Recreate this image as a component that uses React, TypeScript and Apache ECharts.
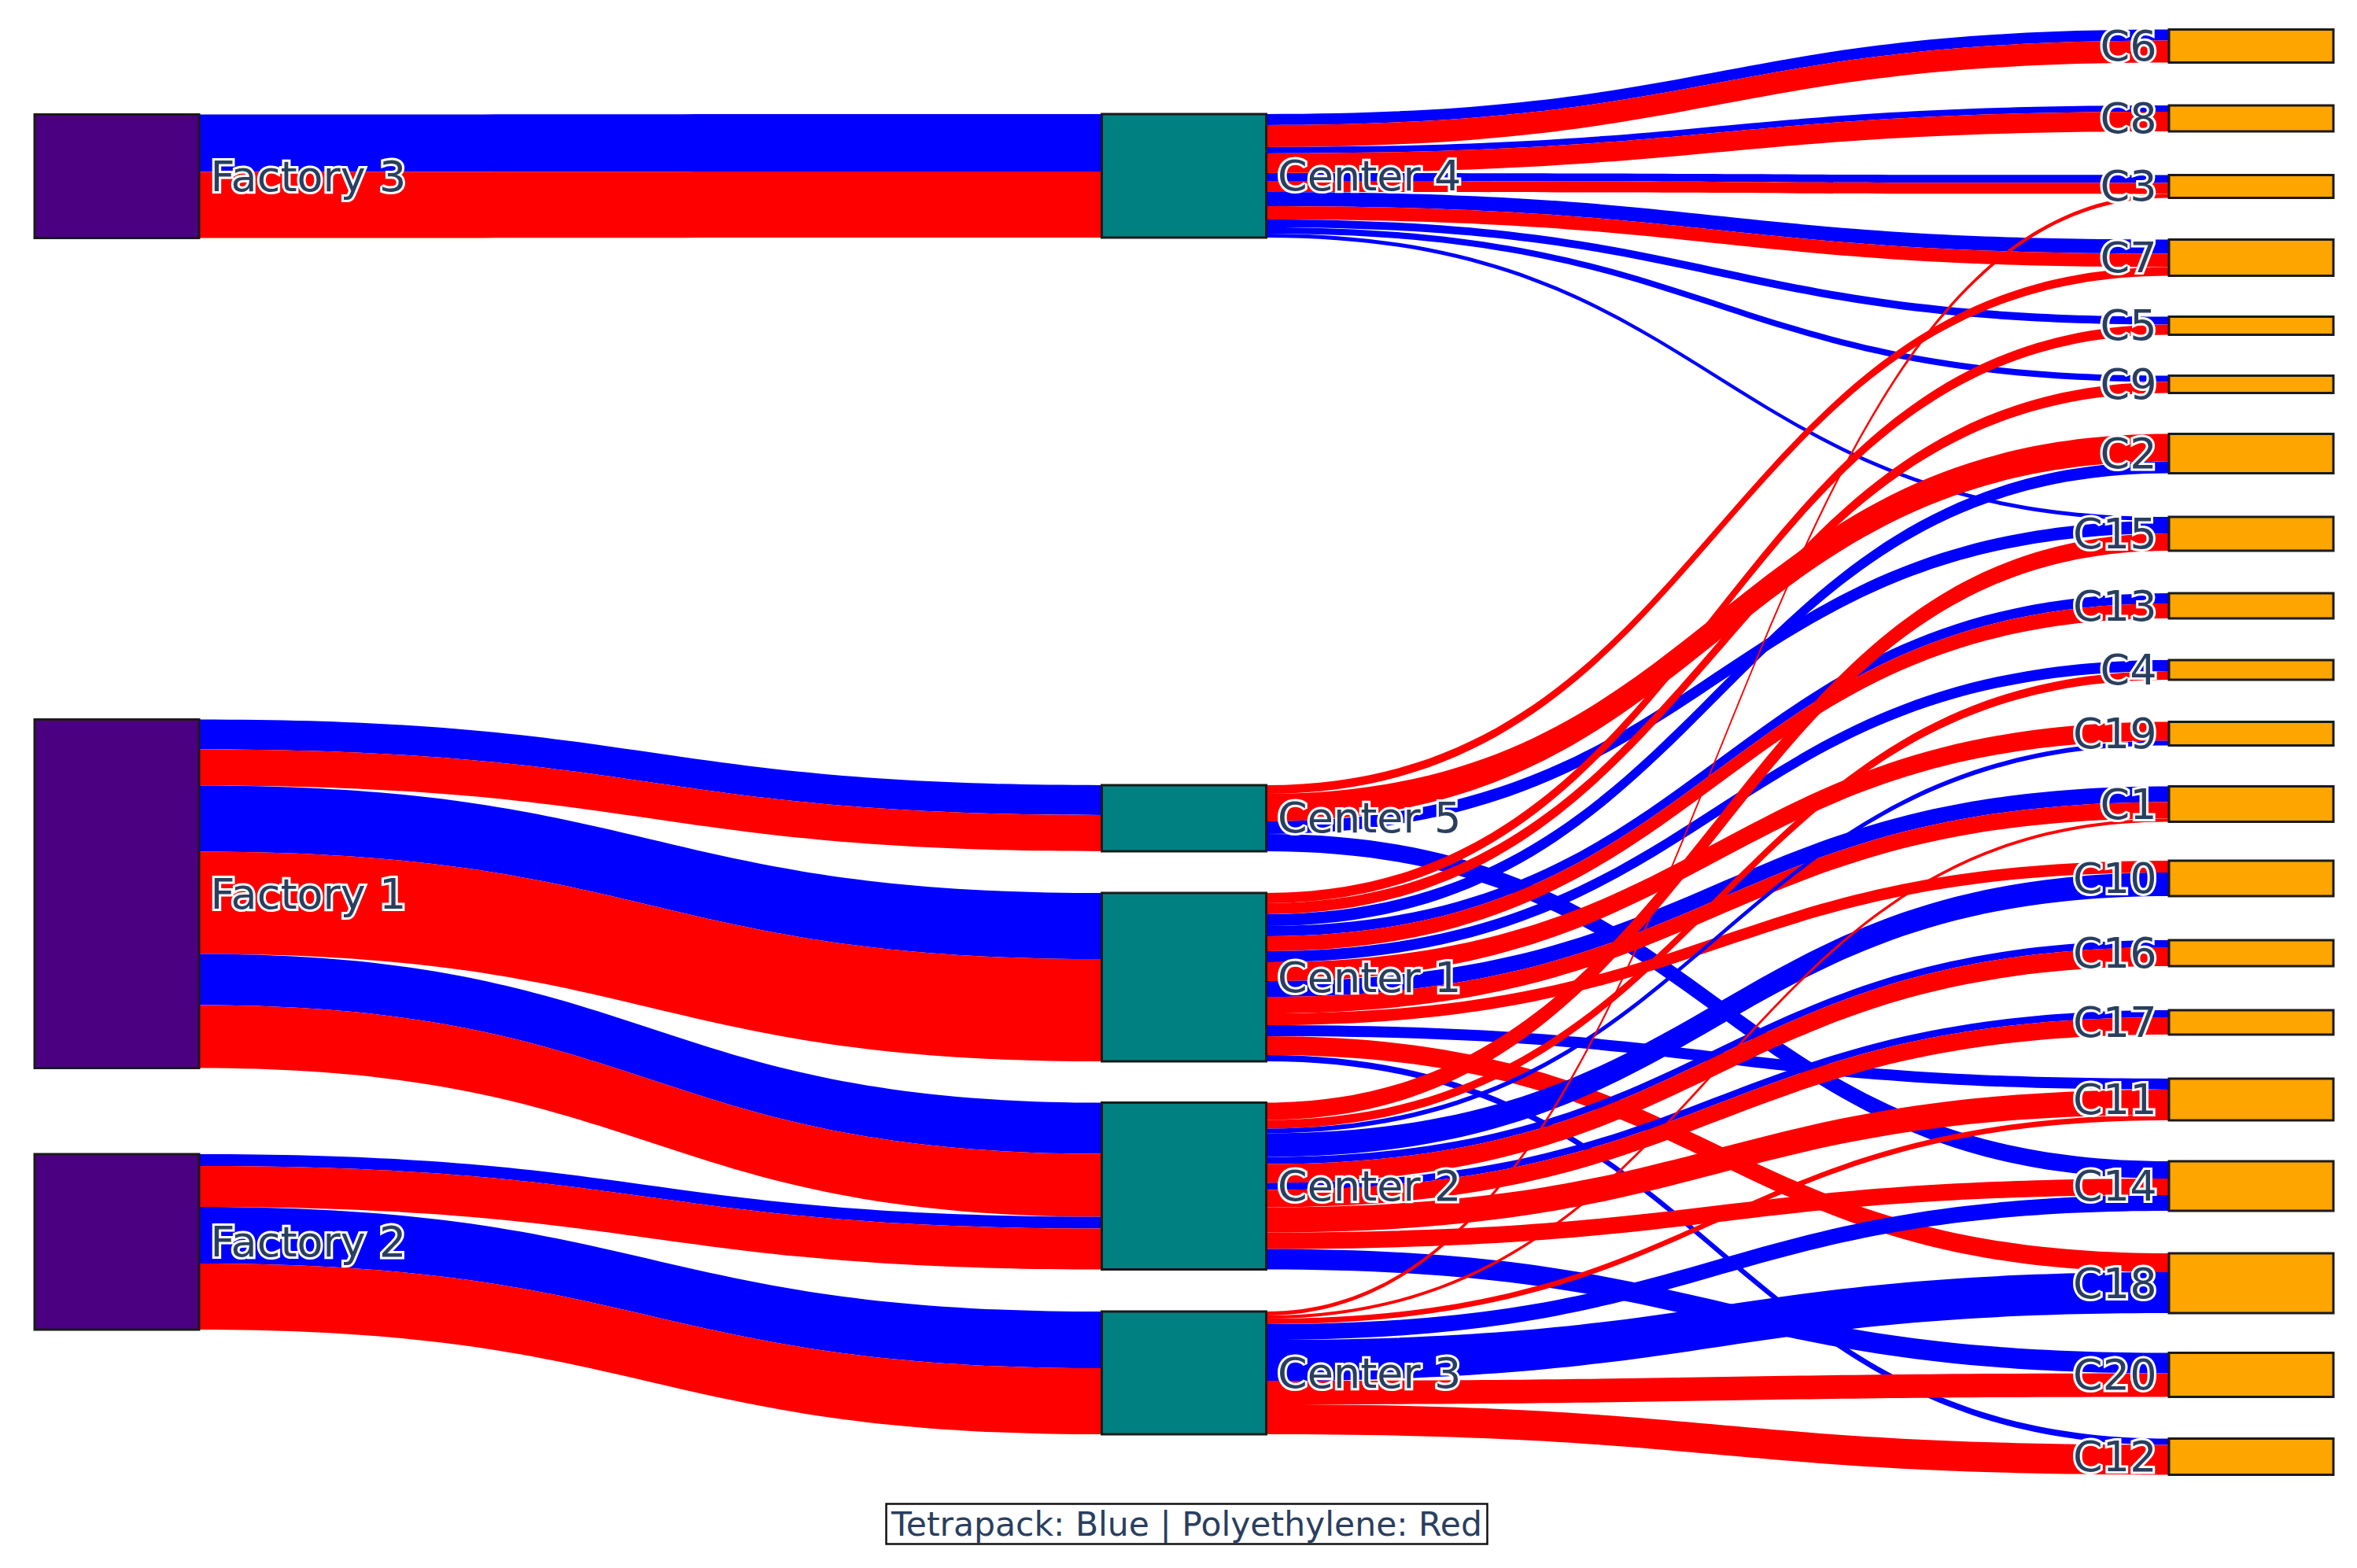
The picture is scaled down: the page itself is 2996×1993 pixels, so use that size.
import React, { useEffect, useRef } from 'react';
import * as echarts from 'echarts';

// ---------- data ----------
const factories = ['Factory 3', 'Factory 1', 'Factory 2'];
const centers = ['Center 4', 'Center 5', 'Center 1', 'Center 2', 'Center 3'];
const customers = [
  'C6', 'C8', 'C3', 'C7', 'C5', 'C9', 'C2', 'C15', 'C13', 'C4',
  'C19', 'C1', 'C10', 'C16', 'C17', 'C11', 'C14', 'C18', 'C20', 'C12',
];

// factory -> center : [factory, center, tetrapack, polyethylene]
const factoryFlows: [string, string, number, number][] = [
  ['Factory 3', 'Center 4', 73, 84],
  ['Factory 1', 'Center 5', 38, 46],
  ['Factory 1', 'Center 1', 84, 130],
  ['Factory 1', 'Center 2', 65, 80],
  ['Factory 2', 'Center 2', 15, 52],
  ['Factory 2', 'Center 3', 72, 84],
];

// center -> customer, Tetrapack (blue)
const tetrapackFlows: [string, string, number][] = [
  ['Center 4', 'C6', 14], ['Center 4', 'C8', 8], ['Center 4', 'C3', 10], ['Center 4', 'C7', 18],
  ['Center 4', 'C5', 10], ['Center 4', 'C9', 8], ['Center 4', 'C15', 5],
  ['Center 5', 'C15', 16], ['Center 5', 'C14', 22],
  ['Center 1', 'C2', 15], ['Center 1', 'C13', 13], ['Center 1', 'C4', 14], ['Center 1', 'C1', 20],
  ['Center 1', 'C11', 14], ['Center 1', 'C12', 8],
  ['Center 2', 'C19', 6], ['Center 2', 'C10', 30], ['Center 2', 'C16', 9], ['Center 2', 'C17', 9],
  ['Center 2', 'C20', 26],
  ['Center 3', 'C14', 20], ['Center 3', 'C18', 52],
];

// center -> customer, Polyethylene (red)
const polyethyleneFlows: [string, string, number][] = [
  ['Center 4', 'C6', 28], ['Center 4', 'C8', 25], ['Center 4', 'C3', 14], ['Center 4', 'C7', 17],
  ['Center 5', 'C7', 11], ['Center 5', 'C2', 35],
  ['Center 1', 'C5', 13], ['Center 1', 'C9', 14], ['Center 1', 'C13', 19], ['Center 1', 'C19', 24],
  ['Center 1', 'C1', 21], ['Center 1', 'C10', 15], ['Center 1', 'C18', 24],
  ['Center 2', 'C15', 22], ['Center 2', 'C4', 11], ['Center 2', 'C16', 24], ['Center 2', 'C17', 22],
  ['Center 2', 'C11', 32], ['Center 2', 'C14', 21],
  ['Center 3', 'C3', 5], ['Center 3', 'C1', 4], ['Center 3', 'C11', 7], ['Center 3', 'C20', 30],
  ['Center 3', 'C12', 38],
];

// node arrangement: vertical centre of each node as a fraction of the figure height
const factoryY = [0.1124, 0.570, 0.792];
const centerY = [0.1121, 0.5218, 0.6232, 0.7564, 0.8756];
const customerY = [
  0.0294, 0.0755, 0.1189, 0.1643, 0.2077, 0.2451, 0.2893, 0.3404, 0.3864, 0.4272,
  0.4679, 0.5128, 0.5602, 0.6079, 0.6520, 0.7012, 0.7564, 0.8184, 0.8768, 0.9290,
];

const legendText = 'Tetrapack: Blue | Polyethylene: Red';

// ---------- styles / layout ----------
const W = 2996;
const H = 1993;
const TOP = 37;
const BOTTOM = 118;
const LEFT = 44;
const RIGHT = 30;
const BLUE = '#0000ff';
const RED = '#ff0000';
const FONT = 'DejaVu Sans';
const TEXT = '#2a3f5f';

function buildOption() {
  const plotH = H - TOP - BOTTOM;
  const val: Record<string, number> = {};
  const add = (k: string, v: number) => { val[k] = (val[k] || 0) + v; };
  factoryFlows.forEach(([f, , b, r]) => { add(f, b + r); });
  factoryFlows.forEach(([, c, b, r]) => { add(c, b + r); });
  tetrapackFlows.forEach(([, k, v]) => add(k, v));
  polyethyleneFlows.forEach(([, k, v]) => add(k, v));

  const columns = [factories, centers, customers];
  const colSum = (col: string[]) => col.reduce((s, n) => s + val[n], 0);
  const custTotal = colSum(customers);
  const nodeGap = (plotH - custTotal) / (customers.length - 1);
  const ky = Math.min(...columns.map((col) => (plotH - (col.length - 1) * nodeGap) / colSum(col)));

  const labelBase = {
    show: true,
    fontFamily: FONT,
    fontSize: 54,
    color: TEXT,
    textBorderColor: '#ffffff',
    textBorderWidth: 6,
  };

  const mkNode = (name: string, yFrac: number, color: string, pos: 'left' | 'right') => {
    const h = val[name] * ky;
    const top = yFrac * H - h / 2;
    return {
      name,
      localY: (top - TOP) / plotH,
      itemStyle: { color, borderColor: '#1a1a1a', borderWidth: 3 },
      label: { ...labelBase, position: pos, distance: pos === 'left' ? 14 : 13 },
    };
  };

  const nodes = [
    ...factories.map((n, i) => mkNode(n, factoryY[i], '#4b0082', 'right')),
    ...centers.map((n, i) => mkNode(n, centerY[i], '#008080', 'right')),
    ...customers.map((n, i) => mkNode(n, customerY[i], '#ffa500', 'left')),
  ];

  const links: any[] = [];
  factoryFlows.forEach(([f, c, b, r]) => {
    links.push({ source: f, target: c, value: b, lineStyle: { color: BLUE } });
    links.push({ source: f, target: c, value: r, lineStyle: { color: RED } });
  });
  centers.forEach((c) => {
    customers.forEach((k) => {
      const b = tetrapackFlows.find((e) => e[0] === c && e[1] === k);
      const r = polyethyleneFlows.find((e) => e[0] === c && e[1] === k);
      if (b) links.push({ source: c, target: k, value: b[2], lineStyle: { color: BLUE } });
      if (r) links.push({ source: c, target: k, value: r[2], lineStyle: { color: RED } });
    });
  });

  return {
    animation: false,
    backgroundColor: '#ffffff',
    title: {
      text: legendText,
      left: 1126,
      top: 1911,
      padding: [3, 7],
      borderColor: '#111',
      borderWidth: 2.5,
      backgroundColor: '#ffffff',
      textStyle: { fontFamily: FONT, fontSize: 42.5, fontWeight: 'normal', color: TEXT, lineHeight: 46 },
    },
    series: [
      {
        type: 'sankey',
        left: LEFT,
        right: RIGHT,
        top: TOP,
        bottom: BOTTOM,
        nodeWidth: 209,
        nodeGap,
        layoutIterations: 0,
        nodeAlign: 'justify',
        draggable: false,
        silent: true,
        emphasis: { disabled: true },
        lineStyle: { opacity: 1, curveness: 0.5 },
        data: nodes,
        links,
      },
    ],
  };
}

export default function App() {
  const ref = useRef<HTMLDivElement>(null);
  useEffect(() => {
    const chart = echarts.init(ref.current!, null, { renderer: 'svg' });
    chart.setOption(buildOption() as any);
    return () => chart.dispose();
  }, []);
  return (
    <div
      ref={ref}
      style={{ position: 'fixed', left: 0, top: 0, width: W, height: H, background: '#fff' }}
    />
  );
}
